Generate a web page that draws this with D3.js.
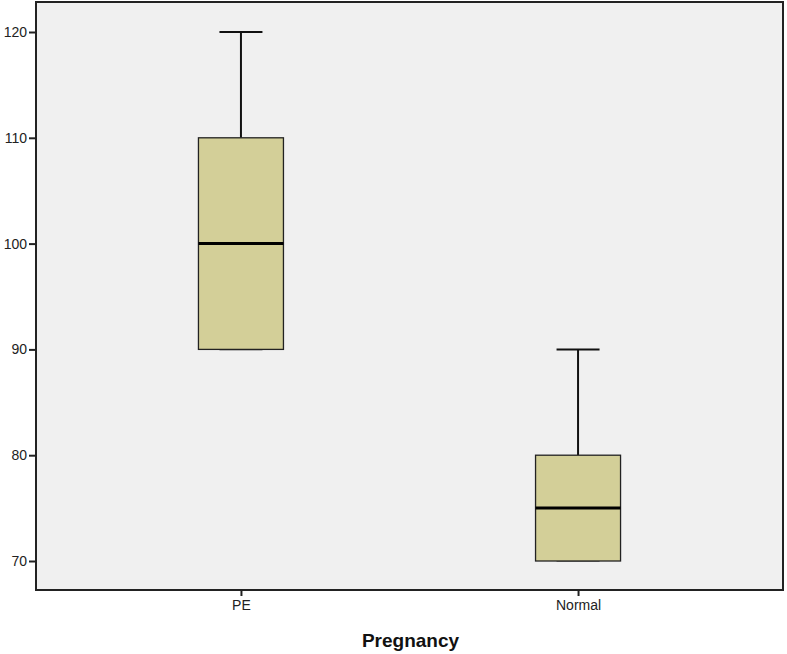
<!DOCTYPE html>
<html><head><meta charset="utf-8">
<script src="https://cdn.jsdelivr.net/npm/d3@7"></script>
<style>body{margin:0;background:#fff}svg{display:block}</style>
</head><body><svg id="c" width="787" height="654"></svg>
<script>
const categories = ["PE", "Normal"];
const whiskerLow = [90, 70];
const q1 = [90, 70];
const median = [100, 75];
const q3 = [110, 80];
const whiskerHigh = [120, 90];
const yTicks = [70, 80, 90, 100, 110, 120];
const xTitle = "Pregnancy";

const svg = d3.select("#c");
const L = 36, R = 783, T = 2, B = 590;
const y = d3.scaleLinear().domain([70, 120]).range([561, 32]);
const x = d3.scalePoint().domain(categories).range([L, R]).padding(0.608);
const bw = 85, capW = 43;
const font = "Arial, 'Liberation Sans', sans-serif";

svg.append("rect").attr("x", L).attr("y", T).attr("width", R - L).attr("height", B - T)
  .attr("fill", "#f0f0f0");

const data = categories.map((c, i) => ({c, lo: whiskerLow[i], q1: q1[i], med: median[i], q3: q3[i], hi: whiskerHigh[i]}));
const g = svg.append("g");
data.forEach(d => {
  const cx = x(d.c);
  g.append("line").attr("x1", cx).attr("x2", cx).attr("y1", y(d.hi)).attr("y2", y(d.q3)).attr("stroke", "#111").attr("stroke-width", 2);
  g.append("line").attr("x1", cx - capW/2).attr("x2", cx + capW/2).attr("y1", y(d.hi)).attr("y2", y(d.hi)).attr("stroke", "#111").attr("stroke-width", 2);
  g.append("line").attr("x1", cx).attr("x2", cx).attr("y1", y(d.q1)).attr("y2", y(d.lo)).attr("stroke", "#111").attr("stroke-width", 2);
  g.append("line").attr("x1", cx - capW/2).attr("x2", cx + capW/2).attr("y1", y(d.lo)).attr("y2", y(d.lo)).attr("stroke", "#888").attr("stroke-width", 2);
  g.append("rect").attr("x", cx - bw/2).attr("y", y(d.q3)).attr("width", bw).attr("height", y(d.q1) - y(d.q3))
    .attr("fill", "#d3cf98").attr("stroke", "#222").attr("stroke-width", 1.3);
  g.append("line").attr("x1", cx - bw/2).attr("x2", cx + bw/2).attr("y1", y(d.med)).attr("y2", y(d.med)).attr("stroke", "#000").attr("stroke-width", 3);
});

svg.append("rect").attr("x", L).attr("y", T).attr("width", R - L).attr("height", B - T)
  .attr("fill", "none").attr("stroke", "#222").attr("stroke-width", 2);

const ya = svg.append("g").attr("transform", `translate(${L},0)`)
  .call(d3.axisLeft(y).tickValues(yTicks).tickSize(7).tickPadding(2).tickFormat(d3.format("d")));
ya.select(".domain").remove();
ya.selectAll(".tick line").attr("stroke", "#222").attr("stroke-width", 2);
ya.selectAll("text").attr("font-family", font).attr("font-size", 14).attr("fill", "#222");

const xa = svg.append("g").attr("transform", `translate(0,${B})`)
  .call(d3.axisBottom(x).tickSize(6).tickPadding(4));
xa.select(".domain").remove();
xa.selectAll(".tick line").attr("stroke", "#222").attr("stroke-width", 2);
xa.selectAll("text").attr("font-family", font).attr("font-size", 14).attr("fill", "#222");

svg.append("text").attr("x", 410.5).attr("y", 647).attr("text-anchor", "middle")
  .attr("font-family", font).attr("font-weight", "bold").attr("font-size", 19)
  .attr("fill", "#111").text(xTitle);
</script></body></html>
